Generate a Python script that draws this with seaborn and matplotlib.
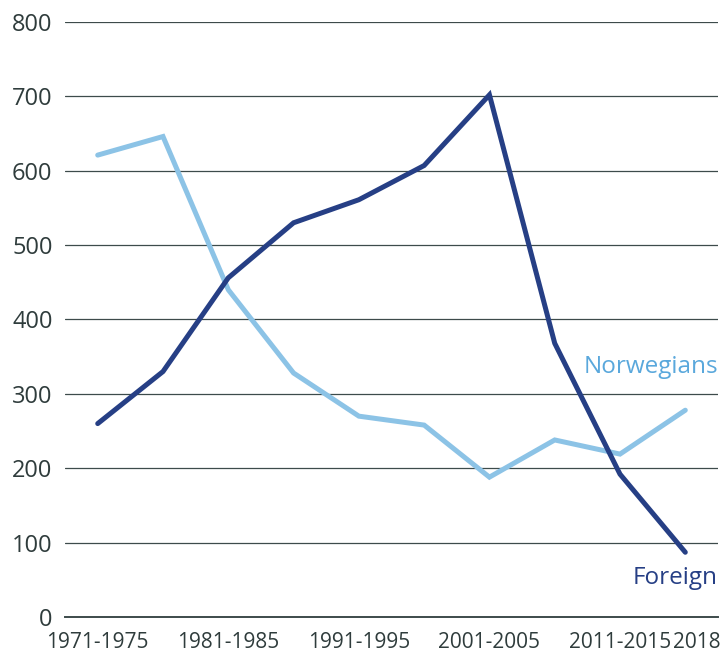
import pandas as pd
import seaborn as sns
import matplotlib.pyplot as plt
import matplotlib.transforms as mtransforms

periods = ["1971-1975", "1976-1980", "1981-1985", "1986-1990", "1991-1995",
           "1996-2000", "2001-2005", "2006-2010", "2011-2015", "2018"]
norwegians = [621, 646, 440, 328, 270, 258, 188, 238, 219, 278]
foreign = [260, 330, 456, 530, 561, 607, 702, 368, 192, 87]
shown_ticks = ["1971-1975", "1981-1985", "1991-1995", "2001-2005", "2011-2015", "2018"]

sns.set_style("white")
plt.rcParams['font.family'] = ['Open Sans', 'DejaVu Sans']

df = pd.DataFrame({
    "period": periods * 2,
    "pos": list(range(len(periods))) * 2,
    "value": norwegians + foreign,
    "group": ["Norwegians"] * len(periods) + ["Foreign"] * len(periods),
})

light = "#8cc3e6"
dark = "#263f85"
grid_c = "#3d4b4b"
text_c = "#2f3c3c"

fig = plt.figure(figsize=(7.23, 6.56), dpi=100)
ax = fig.add_axes([0.09, 0.0595, 0.903, 0.907])

for y in range(100, 801, 100):
    ax.axhline(y, color=grid_c, lw=0.9, zorder=0)

sns.lineplot(data=df, x="pos", y="value", hue="group",
             palette={"Norwegians": light, "Foreign": dark},
             linewidth=3.6, legend=False, ax=ax, zorder=3)
for line in ax.lines:
    line.set_solid_capstyle("round")
    line.set_solid_joinstyle("miter")

ax.set_xlim(-0.5, 9.5)
ax.set_ylim(0, 800)
ax.set_yticks(range(0, 801, 100))
ax.set_yticklabels([str(v) for v in range(0, 801, 100)], fontsize=17, color=text_c)
ax.set_xticks([periods.index(p) for p in shown_ticks])
ax.set_xticklabels(shown_ticks, fontsize=15, color=text_c)
ax.tick_params(axis="x", length=6, width=1, color=grid_c, pad=5, direction="out")
ax.tick_params(axis="y", length=0, pad=9)
ax.set_xlabel("")
ax.set_ylabel("")

# last label pushed right so it ends at the figure edge, as in the source
last = ax.get_xticklabels()[-1]
last.set_horizontalalignment("right")
last.set_transform(last.get_transform() +
                   mtransforms.ScaledTranslation(35 / 100, 0, fig.dpi_scale_trans))

for s in ["top", "right", "left"]:
    ax.spines[s].set_visible(False)
ax.spines["bottom"].set_color(grid_c)
ax.spines["bottom"].set_linewidth(1.4)

ax.text(9.5, 336, "Norwegians", color="#5aa8dc", fontsize=17.5, ha="right", va="center")
ax.text(9.5, 52, "Foreign", color=dark, fontsize=17.5, ha="right", va="center")

fig.savefig("out.png", dpi=100)
